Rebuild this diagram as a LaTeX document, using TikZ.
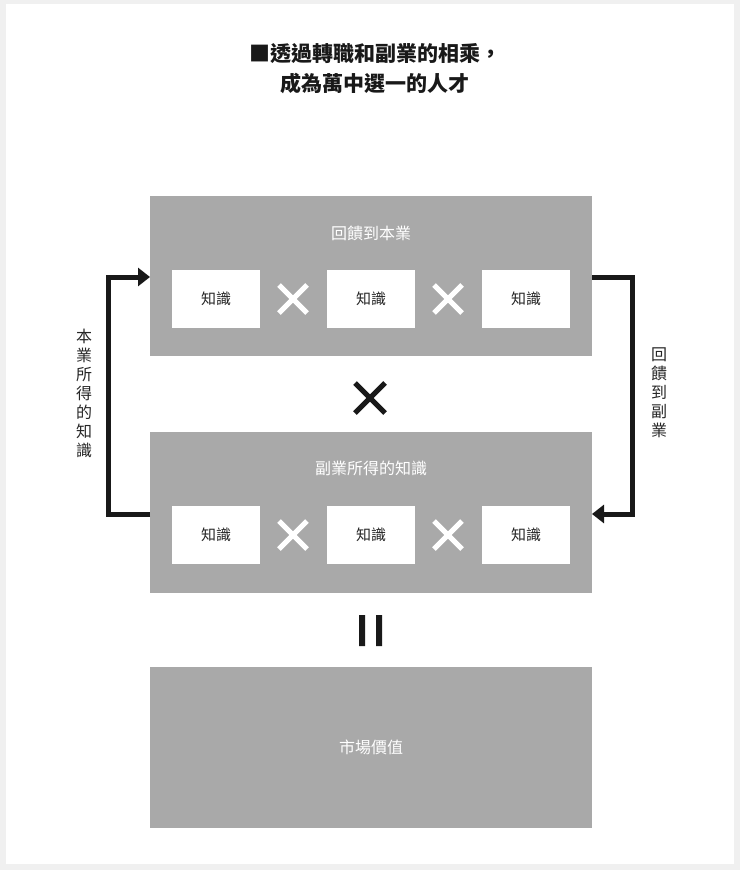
\documentclass[tikz,border=0pt]{standalone}
\usepackage{fontspec}
\setmainfont{Noto Sans CJK TC}
\begin{document}
\begin{tikzpicture}[x=1pt,y=-1pt,
  bigbox/.style={fill=boxgray,draw=none},
  kbox/.style={fill=white,draw=none,minimum width=88pt,minimum height=58pt,font=\fontsize{15}{18}\selectfont,text=black!85},
  blabel/.style={text=white,font=\fontsize{16}{19}\selectfont},
  wx/.style={draw=white,line width=5pt},
  arr/.style={draw=black!90,line width=5pt,-{Triangle[length=12pt,width=18pt]}},
  vlabel/.style={align=center,font=\fontsize{16}{19}\selectfont,text=black!85}]
\usetikzlibrary{arrows.meta}
\definecolor{boxgray}{HTML}{A9A9A9}
\fill[black!6] (0,0) rectangle (740,870);
\fill[white] (6,4) rectangle (734,864);
\useasboundingbox (0,0) rectangle (740,870);
\node[font=\bfseries\fontsize{21}{30}\selectfont,align=center,text=black!90] (title) at (375,69) {■透過轉職和副業的相乘，\\成為萬中選一的人才};
% box 1
\path[bigbox] (150,196) rectangle (592,356);
\node[draw=none,minimum width=0pt] (b1) at (371,276) {};
\coordinate (b1l) at (150,277);
\coordinate (b1r) at (592,277);
\node[blabel] (l1) at (371,233) {回饋到本業};
\node[kbox] (k11) at (216,299) {知識};
\node[kbox] (k12) at (371,299) {知識};
\node[kbox] (k13) at (526,299) {知識};
\draw[wx] (279,285) -- (307,313) (279,313) -- (307,285);
\draw[wx] (434,285) -- (462,313) (434,313) -- (462,285);
\draw[draw=black!90,line width=5pt] (355,383) -- (385,413) (355,413) -- (385,383);
% box 2
\path[bigbox] (150,432) rectangle (592,593);
\coordinate (b2l) at (150,514);
\coordinate (b2r) at (592,514);
\node[blabel] (l2) at (371,468) {副業所得的知識};
\node[kbox] (k21) at (216,535) {知識};
\node[kbox] (k22) at (371,535) {知識};
\node[kbox] (k23) at (526,535) {知識};
\draw[wx] (279,521) -- (307,549) (279,549) -- (307,521);
\draw[wx] (434,521) -- (462,549) (434,549) -- (462,521);
\fill[black!90] (359,615) rectangle (365,646) (376,615) rectangle (382,646);
% box 3
\path[bigbox] (150,667) rectangle (592,828);
\node[blabel] (l3) at (371,747) {市場價值};
% arrows
\draw[arr] (b2l) -- (108,514) -- (108,277) -- (b1l);
\draw[arr] (b1r) -- (632,277) -- (632,514) -- (b2r);
\node[vlabel] (vl) at (84,393) {本\\業\\所\\得\\的\\知\\識};
\node[vlabel] (vr) at (659,393) {回\\饋\\到\\副\\業};
\end{tikzpicture}
\end{document}
